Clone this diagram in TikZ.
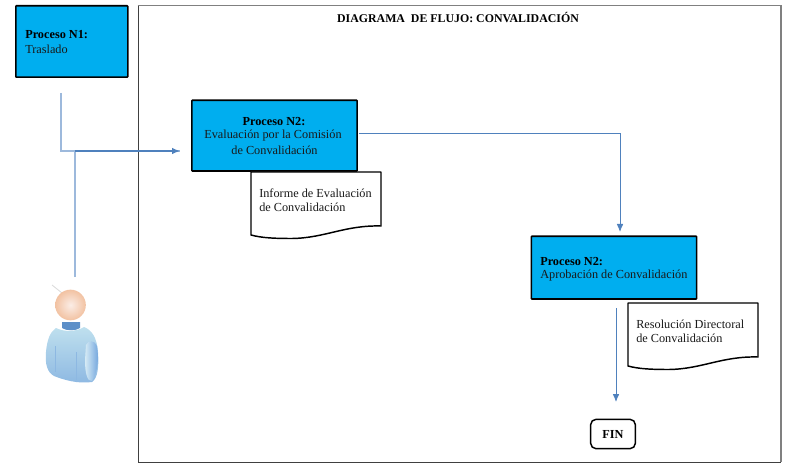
\documentclass[tikz,border=0pt]{standalone}
\usepackage{fontspec}
\setmainfont{Liberation Serif}
\usetikzlibrary{arrows.meta,shapes.geometric}
\definecolor{procblue}{HTML}{00AEEF}
\definecolor{linkblue}{HTML}{4F81BD}
\definecolor{lightlink}{HTML}{9DB9DC}
\definecolor{bodytop}{HTML}{BFE0EE}
\definecolor{bodybot}{HTML}{8DB8E2}
\definecolor{sleevein}{HTML}{D5EAF5}
\definecolor{sleeveout}{HTML}{6FA3DC}
\definecolor{neckblue}{HTML}{5C8FC8}
\definecolor{headin}{HTML}{FBEDE6}
\definecolor{headout}{HTML}{F2C2A2}
\tikzset{
 x=0.75pt,y=-0.75pt,
 procbox/.style={draw=black,line width=1.2pt,fill=procblue,rounded corners=0.5pt},
 docshape/.style={draw=black,line width=1.1pt,fill=white,line join=round},
 flow/.style={draw=linkblue,line width=0.65pt,-{Latex[length=6pt,width=5pt]}},
 flowplain/.style={draw=lightlink,line width=1pt},
 txt/.style={font=\fontsize{9.2pt}{11pt}\selectfont,text=black!90,inner sep=0pt},
 txtb/.style={font=\fontsize{9.2pt}{11pt}\selectfont\bfseries,text=black,inner sep=0pt},
 titletxt/.style={font=\fontsize{8.9pt}{11pt}\selectfont\bfseries,text=black,inner sep=0pt},
}
\begin{document}
\begin{tikzpicture}
\useasboundingbox (0,0) rectangle (800,474);
% frame
\node[draw=black!75,line width=0.6pt,minimum width=482pt,minimum height=342pt,inner sep=0pt,anchor=north west] (frame) at (137.5,5.5) {};
\draw[black!50,line width=1.1pt] (frame.north west) -- (frame.north east) -- (frame.south east);
\node[titletxt,anchor=center] (title) at (458,17.5) {DIAGRAMA\ \ DE FLUJO: CONVALIDACIÓN};

% process boxes
\node[procbox,minimum width=84pt,minimum height=53.5pt,inner sep=0pt,anchor=north west] (p1) at (15,5) {};
\node[txtb,anchor=west] (p1a) at (25,35) {Proceso N1:};
\node[txt,anchor=west] (p1b) at (25,49) {Traslado};

\node[procbox,minimum width=124pt,minimum height=53pt,inner sep=0pt,anchor=north west] (p2) at (191,99.5) {};
\node[txtb] (p2a) at (274,122) {Proceso N2:};
\node[txt] (p2b) at (273,136) {Evaluación por la Comisión};
\node[txt] (p2c) at (274.5,150) {de Convalidación};

\node[procbox,minimum width=124pt,minimum height=47pt,inner sep=0pt,anchor=north west] (p3) at (530.5,235.5) {};
\node[txtb,anchor=west] (p3a) at (540,261.5) {Proceso N2:};
\node[txt,anchor=west] (p3b) at (540,275.5) {Aprobación de Convalidación};

% documents
\draw[docshape] (251,172) -- (381,172) -- (381,226) .. controls (345,225) and (325,238) .. (292,238.5) .. controls (275,238.5) and (262,238) .. (251,235) -- cycle;
\node[txt,anchor=west] (d1a) at (259,193) {Informe de Evaluación};
\node[txt,anchor=west] (d1b) at (259,207) {de Convalidación};

\draw[docshape] (628,303) -- (758,303) -- (758,357) .. controls (722,356) and (702,369) .. (669,369.5) .. controls (652,369.5) and (639,369) .. (628,366) -- cycle;
\node[txt,anchor=west] (d2a) at (636,324) {Resolución Directoral};
\node[txt,anchor=west] (d2b) at (636,338) {de Convalidación};

% end
\node[draw=black,line width=1.1pt,rounded corners=4pt,fill=white,minimum width=33.5pt,minimum height=22pt,inner sep=0pt,txtb] (fin) at (613,434) {FIN};

% connectors
\coordinate (c1) at (61,93);
\coordinate (c2) at (75,277);
\coordinate (in2) at (180,151);
\coordinate (e2) at (359,133);
\coordinate (in3) at (620,232);
\coordinate (e3) at (616,308);
\coordinate (infin) at (616,402);
\draw[flowplain] (c1) |- (in2);
\draw[flowplain] (c2) -- (c2 |- in2);
\draw[draw=linkblue,line width=1pt,-{Latex[length=6pt,width=5pt]}] (c2 |- in2) -- (in2);
\draw[flow] (e2) -| (in3);
\draw[flow] (e3) -- (infin);

% person
\draw[black!15,line width=0.6pt] (52,285) -- (62,293);
\shade[top color=bodytop,bottom color=bodybot,draw=none]
  (56,328) .. controls (50,332) and (47,340) .. (46,352) .. controls (45,364) and (47,372) .. (54,376)
  .. controls (64,380) and (78,384) .. (92,382) .. controls (98,378) and (99,366) .. (98,352)
  .. controls (97,338) and (92,330) .. (84,327) .. controls (76,332) and (64,332) .. (56,328) -- cycle;
\shade[left color=sleevein,right color=sleeveout,draw=none]
  (86,345) .. controls (88,340) and (95,340) .. (97,346) .. controls (99,358) and (98,372) .. (92,381)
  .. controls (87,382) and (85,372) .. (85,360) -- cycle;
\draw[bodybot,line width=0.5pt] (55,346) -- (55,372);
\draw[bodybot,line width=0.5pt] (76,352) -- (76,380);
\fill[neckblue] (62,322) -- (80,322) -- (80,328) .. controls (76,331) and (66,331) .. (62,328) -- cycle;
\shade[inner color=headin,outer color=headout,draw=none] (70.5,305) circle[radius=11.5pt];
\end{tikzpicture}
\end{document}
